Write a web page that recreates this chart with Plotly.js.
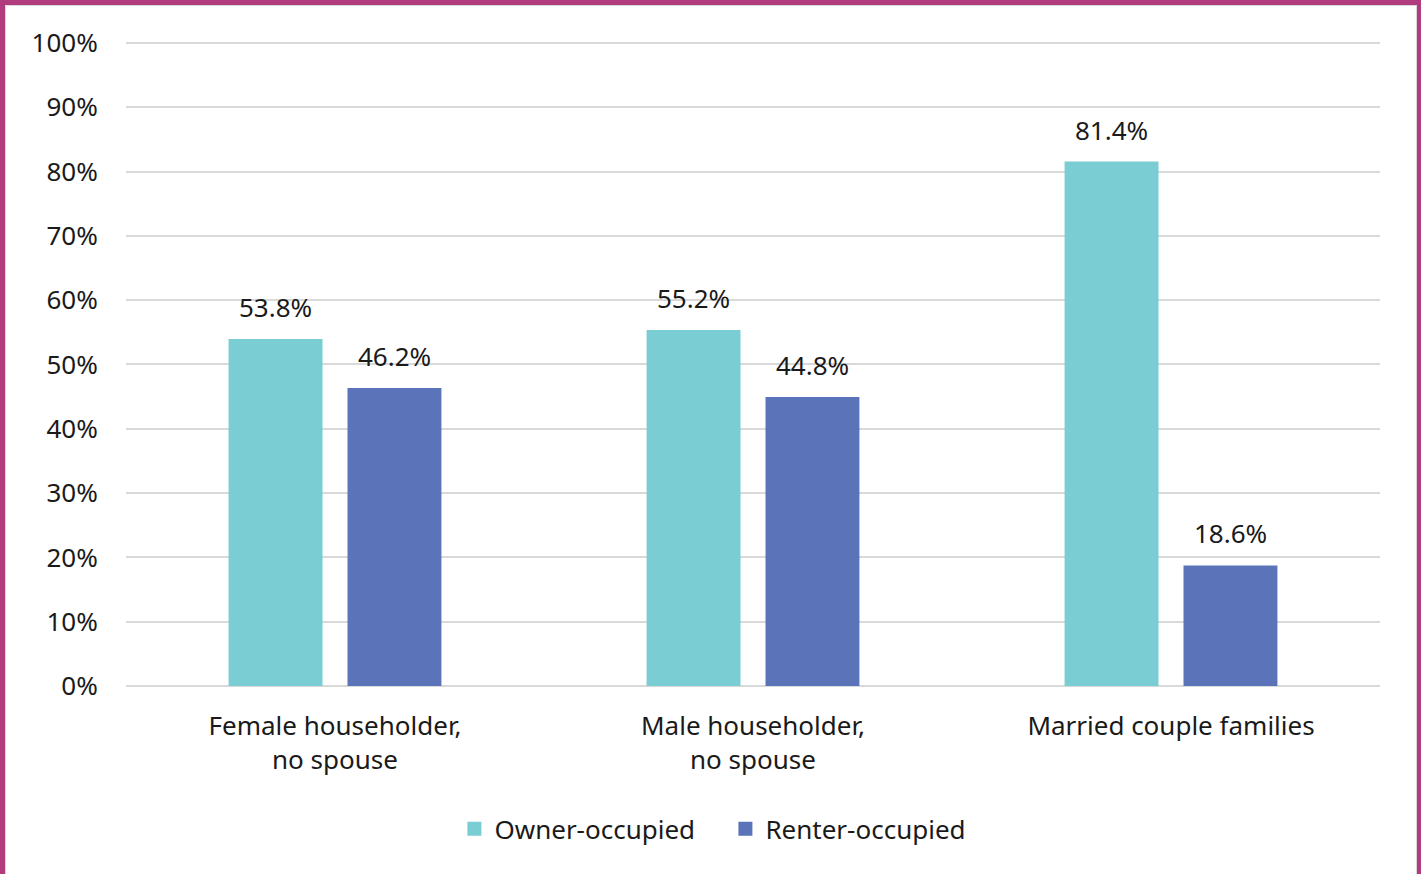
<!DOCTYPE html>
<html>
<head>
<meta charset="utf-8">
<script src="https://cdn.plot.ly/plotly-3.0.1.min.js"></script>
<style>
html,body{margin:0;padding:0;background:#fff;}
#wrap{position:relative;width:1421px;height:874px;overflow:hidden;}
#chart{position:absolute;left:0;top:0;width:1421px;height:874px;}
#frame{position:absolute;left:0;top:0;width:1421px;height:900px;box-sizing:border-box;
 border-left:5px solid #B03C7E;border-top:5px solid #B03C7E;border-right:4px solid #B03C7E;
 box-shadow: inset 1px 1px 0 #d8d8d8, inset -1px 0 0 #d8d8d8;pointer-events:none;}
</style>
</head>
<body>
<div id="wrap"><div id="chart"></div><div id="frame"></div></div>
<script>
var categories = ["Female householder,<br>no spouse", "Male householder,<br>no spouse", "Married couple families"];
var seriesNames = ["Owner-occupied", "Renter-occupied"];
var ownerValues = [53.8, 55.2, 81.4];
var renterValues = [46.2, 44.8, 18.6];
var tickValues = [0,10,20,30,40,50,60,70,80,90,100];
var colors = ["#79CDD3", "#5B74B9"];

var FONT = "Noto Sans, sans-serif";
var TXT = "#1a1a1a";

var traces = [
  {type:"bar", name:seriesNames[0], x:categories, y:ownerValues,
   marker:{color:colors[0], line:{color:colors[0], width:2}}, hoverinfo:"none"},
  {type:"bar", name:seriesNames[1], x:categories, y:renterValues,
   marker:{color:colors[1], line:{color:colors[1], width:2}}, hoverinfo:"none"}
];

var annotations = [];
[ownerValues, renterValues].forEach(function(vals, si){
  vals.forEach(function(v, i){
    annotations.push({x:categories[i], y:v, xref:"x", yref:"y", text:v.toFixed(1)+"%",
      showarrow:false, yanchor:"bottom", xshift:(si===0?-59.5:59.5), yshift:13,
      font:{family:FONT, size:26, color:TXT}});
  });
});

var layout = {
  width:1421, height:874,
  margin:{l:126, r:41, t:37, b:188},
  paper_bgcolor:"rgba(0,0,0,0)", plot_bgcolor:"#fff",
  barmode:"group", bargap:0.431, bargroupgap:0.227,
  font:{family:FONT, size:26, color:TXT},
  xaxis:{type:"category", showgrid:false, zeroline:false, showline:false,
    ticks:"outside", ticklen:17, tickcolor:"rgba(0,0,0,0)",
    tickfont:{family:FONT, size:26, color:TXT}},
  yaxis:{range:[0,100.93], tickvals:tickValues, ticktext:tickValues.map(function(t){return t+"%";}),
    showgrid:true, gridcolor:"#d9d9d9", gridwidth:2, zeroline:true, zerolinecolor:"#d9d9d9", zerolinewidth:2,
    showline:false, ticks:"outside", ticklen:22, tickcolor:"rgba(0,0,0,0)",
    tickfont:{family:FONT, size:26, color:TXT}},
  showlegend:true,
  legend:{orientation:"h", x:0.478, xanchor:"center", y:-0.2203, yanchor:"middle",
    entrywidth:226,
    font:{family:FONT, size:26, color:TXT}, itemsizing:"constant"},
  annotations:annotations
};

Plotly.newPlot("chart", traces, layout, {displayModeBar:false, staticPlot:true});
</script>
</body>
</html>
